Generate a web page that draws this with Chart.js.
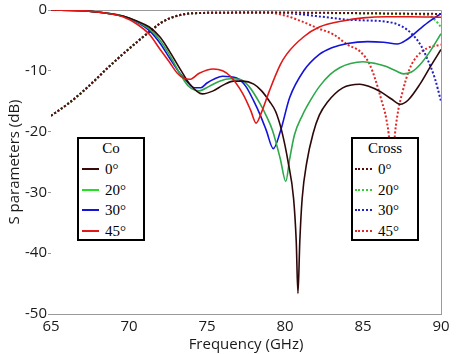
<!DOCTYPE html>
<html>
<head>
<meta charset="utf-8">
<script src="https://cdn.jsdelivr.net/npm/chart.js@4/dist/chart.umd.min.js"></script>
<style>
  body { margin: 0; background: #fff; }
  #wrap { position: relative; width: 474px; height: 354px; }
  .lg {
    position: absolute; top: 137px; width: 64px; height: 100px;
    border: 2px solid #000; background: #fff;
    font-family: "Liberation Serif", serif; font-size: 15px; color: #000;
  }
  .lg .ttl { position: absolute; top: 1px; left: 0; width: 100%; text-align: center; }
  .lg .row { position: absolute; left: 0; width: 100%; height: 18px; line-height: 18px; }
  .lg .smp { position: absolute; top: 8px; width: 17px; height: 0; }
  .lg .txt { position: absolute; top: 0; }
</style>
</head>
<body>
<div id="wrap">
  <canvas id="myChart" width="474" height="354"></canvas>
  <div class="lg" id="coLegend" style="left:77px"><div class="ttl">Co</div></div>
  <div class="lg" id="crossLegend" style="left:351px"><div class="ttl">Cross</div></div>
</div>
<script>
// angles shown in the legends
const angles = ["0°", "20°", "30°", "45°"];

// co-polar (solid) curves, S parameters in dB
const co0Freq = [65, 67, 68.5, 69.6, 70.5, 71.3, 72, 72.6, 73.3, 73.9, 74.7, 75.4, 76, 76.7, 77.3, 78, 78.5, 79, 79.4, 79.8, 80.2, 80.55, 80.72, 80.83, 80.95, 81.1, 81.4, 81.8, 82.2, 82.7, 83.7, 84.8, 85.4, 86.1, 86.8, 87.4, 87.9, 88.65, 89.3, 90];
const co0Db = [0, -0.1, -0.5, -1.0, -1.8, -2.8, -4.5, -6.8, -9.8, -12.2, -13.8, -13.3, -12.4, -11.7, -11.7, -12.2, -13.3, -15, -16.7, -20, -25, -31, -38, -46.6, -38, -31, -25, -20.3, -17.3, -15.2, -12.8, -12.2, -12.6, -13.4, -14.6, -15.5, -14.8, -12.2, -9.4, -6.5];

const co20Freq = [65, 67, 68.5, 69.6, 70.5, 71.3, 72, 72.6, 73.3, 73.8, 74.5, 75.1, 75.8, 76.5, 77.1, 77.7, 78.4, 78.8, 79.2, 79.7, 80.05, 80.3, 80.6, 81.1, 81.6, 82.2, 82.9, 83.5, 84.2, 85, 85.8, 86.5, 87.1, 87.6, 88.1, 88.65, 89.3, 90];
const co20Db = [0, -0.1, -0.5, -1.0, -1.9, -3.1, -5, -7.4, -10.6, -12.5, -13.3, -12.6, -11.7, -11.3, -11.4, -12.6, -15.4, -17.4, -19.8, -24.5, -28.2, -24.5, -20.6, -17.4, -15, -12.6, -10.6, -9.5, -8.8, -8.5, -8.8, -9.3, -10, -10.5, -10.2, -9, -6.8, -3.9];

const co30Freq = [65, 67, 68.5, 69.6, 70.5, 71.3, 72, 72.6, 73.2, 73.7, 74.2, 74.6, 75, 75.5, 76, 76.9, 77.5, 78, 78.4, 78.8, 79.25, 79.7, 80.3, 81.2, 82.2, 83, 84, 85.3, 86.3, 87.2, 87.8, 88.65, 89.3, 90];
const co30Db = [0, -0.1, -0.5, -1.0, -2.0, -3.4, -5.5, -7.9, -10.2, -11.7, -12.8, -12.8, -12, -11.3, -10.9, -11.2, -12.6, -15, -17.2, -19.8, -22.8, -20, -14.4, -10, -7.3, -6.2, -5.5, -5.2, -5.3, -5.6, -4.9, -3.1, -1.8, -0.6];

const co45Freq = [65, 67, 68.5, 69.6, 70.5, 71.3, 72, 72.6, 73.1, 73.5, 73.9, 74.5, 75.4, 76, 76.5, 77.3, 77.8, 78.15, 78.5, 79, 79.7, 80.1, 81.2, 82.2, 83.7, 85, 86.5, 88, 90];
const co45Db = [0, -0.1, -0.5, -1.1, -2.3, -4, -6.5, -8.6, -10.4, -11.2, -11.4, -10.4, -9.7, -10, -10.9, -13.8, -16.5, -18.6, -16.8, -13.3, -9, -7.3, -4.4, -2.8, -1.8, -1.3, -1.1, -1.1, -1.2];

// cross-polar (dotted) curves
const cross0Freq = [65, 66, 67, 68, 68.6, 69.5, 70.5, 71.3, 72, 72.5, 73.5, 74.5, 76, 78, 82, 86, 90];
const cross0Db = [-17.4, -15.6, -13.5, -11.1, -9.6, -7.5, -5.3, -3.6, -2.2, -1.5, -0.7, -0.5, -0.45, -0.4, -0.45, -0.55, -0.65];

const cross20Freq = [65, 66, 67, 68, 68.6, 69.5, 70.5, 71.3, 72, 72.5, 73.5, 74.5, 76, 78, 82, 86, 88, 89.1, 89.6, 90];
const cross20Db = [-17.4, -15.6, -13.5, -11.1, -9.6, -7.5, -5.3, -3.6, -2.2, -1.5, -0.7, -0.5, -0.45, -0.45, -0.5, -0.6, -0.7, -0.8, -1.6, -2.8];

const cross30Freq = [65, 66, 67, 68, 68.6, 69.5, 70.5, 71.3, 72, 72.5, 73.5, 74.5, 76, 78, 80, 81, 82, 83, 84, 85, 86.7, 87.5, 88.2, 88.7, 89.1, 89.6, 90];
const cross30Db = [-17.4, -15.6, -13.5, -11.1, -9.6, -7.5, -5.3, -3.6, -2.2, -1.5, -0.7, -0.5, -0.45, -0.45, -0.5, -0.7, -1, -1.3, -1.6, -1.7, -2, -2.7, -4.1, -5.8, -7.9, -11.2, -15];

const cross45Freq = [65, 66, 67, 68, 68.6, 69.5, 70.5, 71.3, 72, 72.5, 73.5, 74.5, 76, 78, 79, 80, 81, 82.2, 83.1, 84, 84.8, 85.4, 85.8, 86.2, 86.5, 86.7, 86.85, 87, 87.2, 87.5, 88, 88.5, 89.1, 90];
const cross45Db = [-17.4, -15.6, -13.5, -11.1, -9.6, -7.5, -5.3, -3.6, -2.2, -1.5, -0.7, -0.5, -0.45, -0.4, -0.45, -0.9, -1.8, -3.1, -4, -5.7, -6.8, -8.8, -11.5, -15, -18, -22, -30, -22, -17.4, -13.8, -9.6, -7.5, -6.3, -5.7];

// tick labels
const xTicks = [65, 70, 75, 80, 85, 90];
const yTicks = [0, -10, -20, -30, -40, -50];

const coColors = ["#2e0808", "#2ea84a", "#1414d8", "#e01818"];
const coLegendColors = ["#3a0a0a", "#22e022", "#1414d8", "#e01818"];
const crossColors = ["#5a0c0c", "#33cc33", "#2020c8", "#e02828"];

const pts = (fs, ds) => fs.map((f, i) => ({ x: f, y: ds[i] }));

const coData = [pts(co0Freq, co0Db), pts(co20Freq, co20Db), pts(co30Freq, co30Db), pts(co45Freq, co45Db)];
const crossData = [pts(cross0Freq, cross0Db), pts(cross20Freq, cross20Db), pts(cross30Freq, cross30Db), pts(cross45Freq, cross45Db)];

const datasets = [];
// first dataset is drawn on top, so co lines go first (45° on top)
[3, 0, 1, 2].forEach((i) => {
  datasets.push({
    label: "Co " + angles[i],
    data: coData[i],
    borderColor: coColors[i],
    borderWidth: 1.6,
    pointRadius: 0,
    cubicInterpolationMode: "monotone",
  });
});
[0, 1, 2, 3].forEach((i) => {
  datasets.push({
    label: "Cross " + angles[i],
    data: crossData[i],
    borderColor: crossColors[i],
    borderWidth: 2,
    borderDash: [2, 2],
    pointRadius: 0,
    cubicInterpolationMode: "monotone",
  });
});

// build the two legend boxes
function buildLegend(id, colors, dotted, smpLeft, txtLeft) {
  const box = document.getElementById(id);
  angles.forEach((a, i) => {
    const row = document.createElement("div");
    row.className = "row";
    row.style.top = 21 + i * 20.5 + "px";
    row.innerHTML = `<span class="smp" style="left:${smpLeft}px;border-top:2.5px ${dotted ? "dotted" : "solid"} ${colors[i]}"></span><span class="txt" style="left:${txtLeft}px">${a}</span>`;
    box.appendChild(row);
  });
}
buildLegend("coLegend", coLegendColors, false, 3, 26);
buildLegend("crossLegend", crossColors, true, 2, 25);

const frame = {
  id: "frame",
  beforeDatasetsDraw(chart) {
    const { ctx, chartArea: a } = chart;
    ctx.save();
    ctx.strokeStyle = "#9a9a9a";
    ctx.lineWidth = 1;
    ctx.beginPath();
    ctx.moveTo(a.left, a.top + 0.5);
    ctx.lineTo(a.right + 0.5, a.top + 0.5);
    ctx.lineTo(a.right + 0.5, a.bottom);
    ctx.stroke();
    ctx.restore();
  },
};

const tickFont = { family: "Open Sans, sans-serif", size: 15 };

new Chart(document.getElementById("myChart"), {
  type: "line",
  data: { datasets: datasets },
  options: {
    responsive: false,
    animation: false,
    devicePixelRatio: 1,
    layout: { padding: { top: 8, right: 33, left: 0, bottom: 0 } },
    plugins: { legend: { display: false }, tooltip: { enabled: false } },
    scales: {
      x: {
        type: "linear",
        min: 65,
        max: 90,
        afterBuildTicks: (s) => { s.ticks = xTicks.map((v) => ({ value: v })); },
        afterFit: (s) => { s.height = 40; },
        grid: { drawOnChartArea: false, drawTicks: false },
        border: { display: true, color: "#9a9a9a", width: 1 },
        ticks: { color: "#1a1a1a", font: tickFont, padding: 4, maxRotation: 0 },
        title: { display: true, text: "Frequency (GHz)", color: "#1a1a1a", font: tickFont, padding: { top: -6, bottom: 0 } },
      },
      y: {
        min: -50,
        max: 0,
        afterBuildTicks: (s) => { s.ticks = yTicks.map((v) => ({ value: v })); },
        afterFit: (s) => { s.width = 51; },
        grid: { drawOnChartArea: false, drawTicks: true, tickLength: 3, color: "#9a9a9a" },
        border: { display: false },
        ticks: { color: "#1a1a1a", font: tickFont, padding: 1 },
        title: { display: true, text: "S parameters (dB)", color: "#1a1a1a", font: tickFont, padding: { top: 6, bottom: 0 } },
      },
    },
  },
  plugins: [frame],
});
</script>
</body>
</html>
